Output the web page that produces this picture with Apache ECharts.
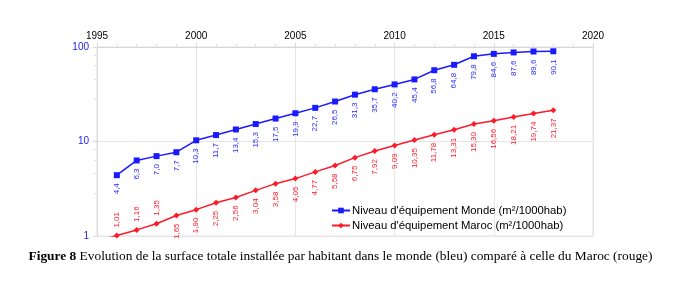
<!DOCTYPE html>
<html>
<head>
<meta charset="utf-8">
<script src="https://cdn.jsdelivr.net/npm/echarts@6/dist/echarts.min.js"></script>
<style>
  html, body { margin: 0; padding: 0; background: #fff; }
  #chart { width: 681px; height: 292px; }
</style>
</head>
<body>
<div id="chart"></div>
<script>
var chart = echarts.init(document.getElementById('chart'));

// années
var years = [1995, 1996, 1997, 1998, 1999, 2000, 2001, 2002, 2003, 2004, 2005, 2006,
             2007, 2008, 2009, 2010, 2011, 2012, 2013, 2014, 2015, 2016, 2017, 2018];
// niveau monde (pas de valeur en 1995)
var monde = [null, 4.4, 6.3, 7.0, 7.7, 10.3, 11.7, 13.4, 15.3, 17.5, 19.9, 22.7,
             26.5, 31.3, 35.7, 40.2, 45.4, 56.8, 64.8, 79.8, 84.6, 87.6, 89.6, 90.1];
// niveau Maroc (1995 sous l'axe, sans étiquette)
var maroc = [0.88, 1.01, 1.16, 1.35, 1.65, 1.90, 2.25, 2.56, 3.04, 3.58, 4.05, 4.77,
             5.58, 6.75, 7.92, 9.09, 10.35, 11.78, 13.31, 15.30, 16.56, 18.21, 19.74, 21.37];
var xTicks = [1995, 2000, 2005, 2010, 2015, 2020];

function fr(v, d) {
    return v.toFixed(d).replace('.', ',');
}

var labelBelow = { position: 'bottom', distance: 5, align: 'right', verticalAlign: 'middle' };
var labelAbove = { position: 'top', distance: 5, align: 'left', verticalAlign: 'middle' };

var mondeData = [];
var marocData = [];
for (var i = 0; i < years.length; i++) {
    if (monde[i] !== null) {
        mondeData.push({
            value: [years[i], monde[i]],
            label: Object.assign({ formatter: fr(monde[i], 1) }, labelBelow)
        });
    }
    if (i === 0) {
        marocData.push({ value: [years[i], maroc[i]], symbol: 'none', label: { show: false } });
    } else {
        marocData.push({
            value: [years[i], maroc[i]],
            label: Object.assign({ formatter: fr(maroc[i], 2) }, i <= 3 ? labelAbove : labelBelow)
        });
    }
}

var option = {
    animation: false,
    textStyle: { fontFamily: 'Liberation Sans, Arial, sans-serif' },
    grid: { left: 97, right: 88, top: 47, bottom: 56, show: true, borderColor: '#e0e0e0', borderWidth: 1 },
    title: {
        text: '{b|Figure 8} Evolution de la surface totale installée par habitant dans le monde (bleu) comparé à celle du Maroc (rouge)',
        left: 'center',
        top: 245,
        textStyle: {
            fontFamily: 'Liberation Serif, Times New Roman, serif',
            fontSize: 13.4,
            fontWeight: 'normal',
            color: '#000',
            rich: {
                b: { fontFamily: 'Liberation Serif, Times New Roman, serif', fontSize: 13.4, fontWeight: 'bold', color: '#000' }
            }
        }
    },
    legend: {
        orient: 'vertical',
        left: 326,
        top: 200,
        itemGap: 4,
        itemWidth: 18,
        itemHeight: 7,
        textStyle: { fontSize: 11.3, color: '#000', padding: [0, 0, 0, -3] },
        data: ["Niveau d'équipement Monde (m²/1000hab)", "Niveau d'équipement Maroc (m²/1000hab)"]
    },
    xAxis: {
        type: 'value',
        position: 'top',
        min: xTicks[0],
        max: xTicks[xTicks.length - 1],
        interval: 5,
        axisLine: { show: true, lineStyle: { color: '#d8d8d8' } },
        axisTick: { show: true, length: 4, lineStyle: { color: '#d8d8d8' } },
        minorTick: { show: true, splitNumber: 5, length: 3, lineStyle: { color: '#e0e0e0' } },
        axisLabel: { color: '#000', fontSize: 10, margin: 6, formatter: function (v) { return String(v); } },
        splitLine: { show: true, lineStyle: { color: '#e6e6e6' } }
    },
    yAxis: {
        type: 'log',
        logBase: 10,
        min: 1,
        max: 100,
        axisLine: { show: true, lineStyle: { color: '#d8d8d8' } },
        axisTick: { show: true, length: 4, lineStyle: { color: '#d8d8d8' } },
        minorTick: { show: true, splitNumber: 5, length: 3, lineStyle: { color: '#e0e0e0' } },
        axisLabel: { color: '#2222ee', fontSize: 10, margin: 8 },
        splitLine: { show: true, lineStyle: { color: '#e6e6e6' } }
    },
    series: [
        {
            name: "Niveau d'équipement Monde (m²/1000hab)",
            type: 'line',
            data: mondeData,
            symbol: 'rect',
            symbolSize: 6,
            lineStyle: { color: '#1a1aff', width: 1.5 },
            itemStyle: { color: '#1a1aff' },
            label: { show: true, rotate: 90, color: '#2a2aff', fontSize: 8 }
        },
        {
            name: "Niveau d'équipement Maroc (m²/1000hab)",
            type: 'line',
            data: marocData,
            symbol: 'diamond',
            symbolSize: 6,
            clip: true,
            lineStyle: { color: '#ff1a2a', width: 1.5 },
            itemStyle: { color: '#ff1a2a' },
            label: { show: true, rotate: 90, color: '#ff1a2a', fontSize: 8 }
        }
    ]
};

chart.setOption(option);
</script>
</body>
</html>
